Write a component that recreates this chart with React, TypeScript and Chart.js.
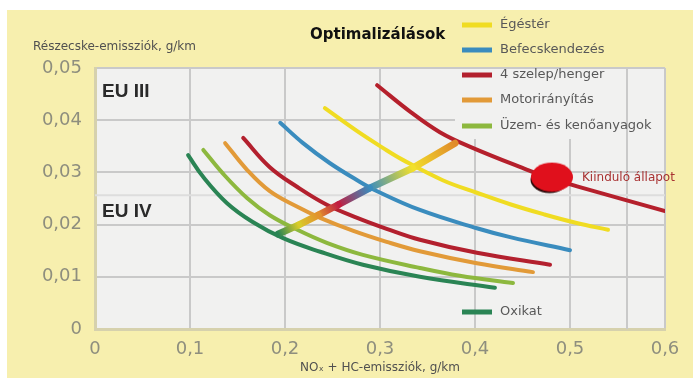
import React, { useEffect, useRef } from 'react';
import { Chart, registerables } from 'chart.js';
Chart.register(...registerables);

// ---- Data ----
const xTicks = [0, 0.1, 0.2, 0.3, 0.4, 0.5, 0.6];
const yTicks = [0, 0.01, 0.02, 0.03, 0.04, 0.05];

const seriesNames = ['Égéstér', 'Befecskendezés', '4 szelep/henger', 'Motorirányítás', 'Üzem- és kenőanyagok', 'Oxikat'];

// starting-state trade-off curve (through "Kiinduló állapot")
const baseX = [0.297, 0.332, 0.363, 0.395, 0.455, 0.479, 0.514, 0.6];
const baseY = [0.0467, 0.0416, 0.0377, 0.0349, 0.0305, 0.0289, 0.027, 0.0226];

const egesterX = [0.242, 0.276, 0.303, 0.324, 0.366, 0.402, 0.437, 0.472, 0.507, 0.54];
const egesterY = [0.0423, 0.0379, 0.0347, 0.0324, 0.0285, 0.0261, 0.0239, 0.022, 0.0203, 0.019];

const befecsX = [0.195, 0.219, 0.247, 0.276, 0.297, 0.342, 0.402, 0.437, 0.5];
const befecsY = [0.0395, 0.0356, 0.0318, 0.0285, 0.0264, 0.0228, 0.0193, 0.0176, 0.0151];

const szelepX = [0.156, 0.184, 0.213, 0.244, 0.276, 0.307, 0.342, 0.402, 0.479];
const szelepY = [0.0366, 0.031, 0.0272, 0.0238, 0.0213, 0.0192, 0.0171, 0.0146, 0.0123];

const motorX = [0.137, 0.16, 0.184, 0.213, 0.237, 0.272, 0.307, 0.342, 0.402, 0.461];
const motorY = [0.0356, 0.0305, 0.0264, 0.0234, 0.0213, 0.0188, 0.0167, 0.0149, 0.0126, 0.0109];

const uzemX = [0.114, 0.135, 0.16, 0.184, 0.213, 0.244, 0.282, 0.342, 0.384, 0.44];
const uzemY = [0.0343, 0.0297, 0.0251, 0.0218, 0.019, 0.0165, 0.0142, 0.0117, 0.0102, 0.0088];

const oxikatX = [0.098, 0.114, 0.139, 0.166, 0.198, 0.237, 0.282, 0.342, 0.421];
const oxikatY = [0.0333, 0.0291, 0.0241, 0.0205, 0.0174, 0.0148, 0.0123, 0.01, 0.0079];

// optimisation path (from the starting curve down to Oxikat)
const pathX = [0.379, 0.334, 0.289, 0.256, 0.235, 0.214, 0.193];
const pathY = [0.0356, 0.0308, 0.027, 0.0238, 0.0218, 0.0199, 0.0182];

const startX = [0.48];
const startY = [0.029];

const euIVLimitY = 0.0256; // horizontal EU IV line
const euIIILimitX = 0.56; // vertical EU III line

// ---- Styles ----
const seriesColors = ['#f0dc22', '#3a8cbe', '#b3202e', '#e29a38', '#8db83e', '#2a8454'];
const baseColor = '#b5202c';
const pathColors = ['#e08a2a', '#f2e02a', '#3a8cbe', '#c01e40', '#e2922e', '#d8cc2a', '#2a8454'];
const YELLOW = '#f7efae';
const PLOT_BG = '#f1f1f0';
const GRID = '#c9c9c9';
const FONT = 'DejaVu Sans';

const pts = (xs: number[], ys: number[]) => xs.map((x, i) => ({ x, y: ys[i] }));

function makeDot() {
  const c = document.createElement('canvas');
  c.width = 50;
  c.height = 38;
  const g = c.getContext('2d')!;
  g.fillStyle = '#2a0808';
  g.beginPath();
  g.ellipse(23.5, 21, 19, 13.5, 0, 0, Math.PI * 2);
  g.fill();
  g.fillStyle = '#e0101c';
  g.beginPath();
  g.ellipse(26, 18.5, 21, 14.5, 0, 0, Math.PI * 2);
  g.fill();
  return c;
}

export default function App() {
  const ref = useRef<HTMLCanvasElement>(null);

  useEffect(() => {
    const canvas = ref.current!;
    const ctx2d = canvas.getContext('2d')!;

    const curve = (label: string, xs: number[], ys: number[], color: string) => ({
      label,
      data: pts(xs, ys),
      showLine: true,
      borderColor: color,
      backgroundColor: color,
      borderWidth: 4,
      pointRadius: 0,
      tension: 0.4,
      borderCapStyle: 'round' as const,
    });

    const bgPlugin = {
      id: 'bgPlugin',
      beforeDraw(chart: any) {
        const c = chart.ctx;
        const a = chart.chartArea;
        c.save();
        c.fillStyle = '#ffffff';
        c.fillRect(0, 0, chart.width, chart.height);
        c.fillStyle = YELLOW;
        c.fillRect(7, 10, chart.width - 7, chart.height - 10);
        c.fillStyle = PLOT_BG;
        c.fillRect(a.left, a.top, a.right - a.left, a.bottom - a.top);
        c.restore();
      },
      beforeDatasetsDraw(chart: any) {
        const c = chart.ctx;
        const a = chart.chartArea;
        c.save();
        c.fillStyle = PLOT_BG;
        c.fillRect(455, a.top + 1, a.right - 456, 70);
        c.restore();
      },
      afterDraw(chart: any) {
        const c = chart.ctx;
        c.save();
        c.textBaseline = 'middle';
        c.textAlign = 'left';
        // y axis title
        c.fillStyle = '#505050';
        c.font = `12px "${FONT}"`;
        c.fillText('Részecske-emissziók, g/km', 33, 47);
        // main title
        c.fillStyle = '#111111';
        c.font = `bold 15px "${FONT}"`;
        c.fillText('Optimalizálások', 310, 35);
        // EU labels
        c.fillStyle = '#2a2a2a';
        c.font = 'bold 19px "Liberation Sans"';
        c.fillText('EU III', 102, 92);
        c.fillText('EU IV', 102, 212);
        // start label
        c.fillStyle = '#a83232';
        c.font = `12px "${FONT}"`;
        c.fillText('Kiinduló állapot', 582, 178);
        // legend
        const rows = [25, 50, 75, 100, 126, 312];
        seriesNames.forEach((name, i) => {
          const y = rows[i];
          c.fillStyle = seriesColors[i];
          c.fillRect(462, y - 2.5, 30, 5);
          c.fillStyle = '#585858';
          c.font = `13px "${FONT}"`;
          c.fillText(name, 500, y);
        });
        c.restore();
      },
    };

    const chart = new Chart(canvas, {
      type: 'scatter',
      data: {
        datasets: [
          {
            label: 'Kiinduló állapot',
            data: pts(startX, startY),
            pointStyle: makeDot() as any,
            pointRadius: 15,
            backgroundColor: '#e0101c',
            borderColor: '#e0101c',
          },
          {
            label: 'Optimalizálási út',
            data: pts(pathX, pathY),
            showLine: true,
            borderWidth: 7,
            pointRadius: 0,
            borderColor: pathColors[0],
            borderCapStyle: 'round',
            segment: {
              borderColor: (sc: any) => {
                const c0 = pathColors[sc.p0DataIndex];
                const c1 = pathColors[sc.p1DataIndex];
                const p0 = sc.p0, p1 = sc.p1;
                if (!p0 || !p1 || !isFinite(p0.x) || !isFinite(p1.x) || !isFinite(p0.y) || !isFinite(p1.y)) return c0;
                const g = ctx2d.createLinearGradient(p0.x, p0.y, p1.x, p1.y);
                g.addColorStop(0, c0);
                g.addColorStop(1, c1);
                return g as any;
              },
            },
          } as any,
          curve('Kiinduló görbe', baseX, baseY, baseColor),
          curve(seriesNames[0], egesterX, egesterY, seriesColors[0]),
          curve(seriesNames[1], befecsX, befecsY, seriesColors[1]),
          curve(seriesNames[2], szelepX, szelepY, seriesColors[2]),
          curve(seriesNames[3], motorX, motorY, seriesColors[3]),
          curve(seriesNames[4], uzemX, uzemY, seriesColors[4]),
          curve(seriesNames[5], oxikatX, oxikatY, seriesColors[5]),
          {
            label: 'EU IV',
            data: [{ x: 0, y: euIVLimitY }, { x: 0.6, y: euIVLimitY }],
            showLine: true,
            borderColor: '#dddddd',
            borderWidth: 2,
            pointRadius: 0,
          },
          {
            label: 'EU III',
            data: [{ x: euIIILimitX, y: 0 }, { x: euIIILimitX, y: 0.05 }],
            showLine: true,
            borderColor: GRID,
            borderWidth: 2,
            pointRadius: 0,
          },
        ],
      },
      options: {
        animation: false,
        responsive: false,
        devicePixelRatio: 1,
        layout: { padding: { top: 68, right: 28, left: 0, bottom: 0 } },
        plugins: {
          legend: { display: false },
          tooltip: { enabled: false },
          title: { display: false },
        },
        scales: {
          x: {
            type: 'linear',
            min: 0,
            max: 0.6,
            afterBuildTicks: (s: any) => {
              s.ticks = xTicks.map((v) => ({ value: v }));
            },
            afterFit: (s: any) => {
              s.height = 49;
            },
            grid: { color: GRID, lineWidth: 2, drawTicks: false },
            border: { color: '#d6d1ad', width: 3 },
            ticks: {
              padding: 10,
              color: '#8e8e7e',
              font: { family: FONT, size: 18 },
              autoSkip: false,
              maxRotation: 0,
              callback: (v: any) => (Number(v) === 0 ? '0' : Number(v).toFixed(1).replace('.', ',')),
            },
            title: {
              display: true,
              text: 'NOₓ + HC-emissziók, g/km',
              color: '#505050',
              font: { family: FONT, size: 12 },
              padding: { top: 0, bottom: 3 },
            },
          },
          y: {
            type: 'linear',
            min: 0,
            max: 0.05,
            afterBuildTicks: (s: any) => {
              s.ticks = yTicks.map((v) => ({ value: v }));
            },
            afterFit: (s: any) => {
              s.width = 95;
            },
            grid: { color: GRID, lineWidth: 2, drawTicks: false },
            border: { color: '#d6d1ad', width: 3 },
            ticks: {
              padding: 13,
              color: '#8e8e7e',
              font: { family: FONT, size: 18 },
              autoSkip: false,
              callback: (v: any) => (Number(v) === 0 ? '0' : Number(v).toFixed(2).replace('.', ',')),
            },
          },
        },
      },
      plugins: [bgPlugin],
    } as any);

    return () => chart.destroy();
  }, []);

  return (
    <div style={{ position: 'fixed', left: 0, top: 0, width: 693, height: 378 }}>
      <canvas ref={ref} width={693} height={378} style={{ display: 'block', width: 693, height: 378 }} />
    </div>
  );
}
